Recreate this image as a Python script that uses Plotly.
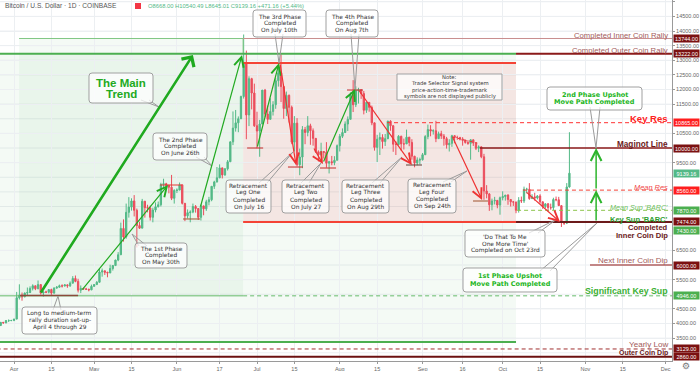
import plotly.graph_objects as go
import pandas as pd

# ---------------- data (BTC/USD daily, Coinbase, 2019) ----------------
dates = pd.date_range("2019-03-27", periods=214, freq="D")

opens = [
    3930, 4040, 4020, 4100, 4100,
    4105, 4150, 4880, 4970, 4910, 5040, 5060, 5200, 5290, 5190, 5330, 5040, 5080, 5070, 5160, 5040, 5210, 5240, 5290, 5280,
    5320, 5290, 5380, 5540, 5440, 5140, 5200, 5180, 5170, 5150,
    5270, 5330, 5410, 5760, 5800, 5750, 5730, 5880, 5980, 6170, 6350, 7250, 6960, 7800, 7980, 8190, 7870, 7350, 7260, 8180,
    7960, 7950, 7630, 7880, 7990, 8060, 8750, 8780, 8720, 8660, 8280,
    8550, 8560, 8740, 8110, 7680, 7790, 7810, 8000, 7930, 7630, 8020, 7920, 8160, 8230, 8690, 8840, 8980, 9320, 9080, 9290,
    9530, 10210, 10680, 10860, 11000, 11760, 12930, 11130, 12370, 11880,
    10760, 10580, 10820, 11980, 11160, 10980, 11250, 11480, 12300, 12570, 12100, 11350, 11800, 11390, 10200, 10850, 9430, 9690, 10630, 10530,
    10760, 10590, 10330, 9870, 9770, 9880, 9850, 9480, 9530, 9500, 9580,
    10080, 10400, 10530, 10820, 10980, 11800, 11480, 11970, 11990, 11860, 11290, 11560, 11390, 10860, 10020, 10300, 10360, 10220, 10320, 10920,
    10760, 10130, 10120, 10400, 10140, 10140, 10370, 10190, 9720, 9490, 9590,
    9600, 9770, 10390, 10630, 10580, 10590, 10320, 10490, 10410, 10320, 10110, 10160, 10420, 10360, 10360, 10310, 10260, 10190, 10160, 10280,
    10170, 9990, 10040, 9700, 8530, 8430, 8060, 8190, 8210, 8050,
    8300, 8340, 8390, 8240, 8160, 8150, 7870, 8210, 8190, 8590, 8590, 8270, 8330, 8290, 8360, 8160, 8000, 8090, 7960, 7960,
    8240, 8230, 8030, 7460, 7430, 8668.00,
]
highs = [
    4050, 4050, 4120, 4140, 4120,
    4160, 5080, 5340, 5060, 5060, 5230, 5270, 5340, 5290, 5470, 5340, 5100, 5120, 5180, 5190, 5240, 5280, 5330, 5340, 5350,
    5340, 5440, 5620, 5640, 5530, 5300, 5220, 5220, 5190, 5330,
    5350, 5450, 5880, 5880, 5810, 5770, 6010, 6000, 6180, 6440, 7450, 7560, 8100, 8320, 8280, 8390, 7930, 7480, 8260, 8190,
    8060, 8030, 7960, 8140, 8170, 8810, 8950, 8810, 8740, 9080, 8590,
    8620, 8820, 8750, 8110, 7900, 7870, 8100, 8050, 7940, 8070, 8030, 8230, 8330, 8700, 8880, 9350, 9440, 9330, 9310, 9590,
    10220, 11250, 11300, 11080, 11790, 13880, 13330, 12450, 12400, 12200,
    11240, 10960, 11980, 12020, 11450, 11700, 11600, 12400, 12830, 13200, 12120, 11930, 11830, 11450, 11090, 11020, 9980, 10750, 10720, 11090,
    10830, 10670, 10330, 9920, 10180, 9890, 10200, 9560, 9730, 9720, 10120,
    10480, 10670, 10910, 11080, 11900, 12320, 12110, 12060, 12010, 11950, 11580, 11560, 11450, 10870, 10450, 10530, 10470, 10480, 10930, 10950,
    10780, 10230, 10440, 10420, 10320, 10630, 10380, 10300, 9730, 9680, 9670,
    9830, 10440, 10800, 10780, 10640, 10930, 10560, 10590, 10480, 10380, 10300, 10450, 10440, 10420, 10380, 10370, 10280, 10270, 10300, 10290,
    10180, 10090, 10050, 9800, 8730, 8460, 8270, 8330, 8220, 8340,
    8520, 8390, 8420, 8250, 8190, 8170, 8320, 8340, 8680, 8640, 8800, 8420, 8470, 8390, 8420, 8170, 8110, 8120, 8100, 8300,
    8340, 8330, 8040, 7480, 8800, 10540.49,
]
lows = [
    3920, 4000, 4010, 4050, 4080,
    4080, 4150, 4820, 4780, 4900, 4950, 5040, 5130, 5140, 5170, 4990, 4920, 5040, 5030, 4980, 5020, 5190, 5230, 5230, 5270,
    5220, 5250, 5370, 5410, 5060, 5040, 5150, 5150, 5100, 5140,
    5260, 5320, 5400, 5600, 5660, 5580, 5720, 5810, 5980, 6130, 6350, 6800, 6900, 7620, 7860, 7660, 6600, 7230, 7260, 7620,
    7800, 7520, 7460, 7800, 7970, 8000, 8640, 8570, 8450, 8220, 8100,
    8460, 8560, 8070, 7500, 7590, 7460, 7770, 7790, 7540, 7520, 7700, 7850, 8040, 8180, 8600, 8820, 8970, 8960, 9050, 9230,
    9530, 10100, 10560, 10540, 10990, 11690, 10300, 10750, 11320, 10720,
    9990, 9700, 10820, 11050, 10820, 10980, 11110, 11340, 12100, 11570, 11000, 11090, 10870, 10130, 9880, 9370, 9070, 9310, 10130, 10400,
    10110, 10080, 9830, 9540, 9740, 9640, 9330, 9130, 9410, 9410, 9580,
    9880, 10340, 10510, 10580, 10980, 11230, 11400, 11520, 11680, 11150, 11200, 11240, 10780, 9910, 9520, 9760, 9980, 10070, 10300, 10590,
    9870, 9760, 10080, 9900, 9950, 10140, 10060, 9600, 9340, 9410, 9440,
    9570, 9760, 10300, 10400, 10460, 10200, 10310, 10310, 10080, 9980, 9880, 10040, 10160, 10280, 10260, 10080, 10150, 10110, 9600, 10070,
    9930, 9860, 9650, 8230, 8280, 7850, 7870, 8070, 7940, 7720,
    8210, 8200, 8060, 8000, 8020, 7770, 7790, 8120, 8120, 8450, 8230, 8260, 8200, 8240, 8100, 7920, 7940, 7830, 7890, 7880,
    8180, 8030, 7300, 7370, 7400, 8645.01,
]
closes = [
    4040, 4020, 4100, 4100, 4105,
    4150, 4880, 4970, 4910, 5040, 5060, 5200, 5290, 5190, 5330, 5040, 5080, 5070, 5160, 5040, 5210, 5240, 5290, 5280, 5320,
    5290, 5380, 5540, 5440, 5140, 5200, 5180, 5170, 5150, 5270,
    5330, 5410, 5760, 5800, 5750, 5730, 5880, 5980, 6170, 6350, 7250, 6960, 7800, 7980, 8190, 7870, 7350, 7260, 8180, 7960,
    7950, 7630, 7880, 7990, 8060, 8750, 8780, 8720, 8660, 8280, 8550,
    8560, 8740, 8110, 7680, 7790, 7810, 8000, 7930, 7630, 8020, 7920, 8160, 8230, 8690, 8840, 8980, 9320, 9080, 9290, 9530,
    10210, 10680, 10860, 11000, 11760, 12930, 11130, 12370, 11880, 10760,
    10580, 10820, 11980, 11160, 10980, 11250, 11480, 12300, 12570, 12100, 11350, 11800, 11390, 10200, 10850, 9430, 9690, 10630, 10530, 10760,
    10590, 10330, 9870, 9770, 9880, 9850, 9480, 9530, 9500, 9580, 10080,
    10400, 10530, 10820, 10980, 11800, 11480, 11970, 11990, 11860, 11290, 11560, 11390, 10860, 10020, 10300, 10360, 10220, 10320, 10920, 10760,
    10130, 10120, 10400, 10140, 10140, 10370, 10190, 9720, 9490, 9590, 9600,
    9770, 10390, 10630, 10580, 10590, 10320, 10490, 10410, 10320, 10110, 10160, 10420, 10360, 10360, 10310, 10260, 10190, 10160, 10280, 10170,
    9990, 10040, 9700, 8530, 8430, 8060, 8190, 8210, 8050, 8300,
    8340, 8390, 8240, 8160, 8150, 7870, 8210, 8190, 8590, 8590, 8270, 8330, 8290, 8360, 8160, 8000, 8090, 7960, 7960, 8240,
    8230, 8030, 7460, 7430, 8668, 9139.16,
]

tick_dates = ["2019-04-01", "2019-04-15", "2019-05-01", "2019-05-15", "2019-06-01", "2019-06-17",
              "2019-07-01", "2019-07-15", "2019-08-01", "2019-08-15", "2019-09-01", "2019-09-16",
              "2019-10-01", "2019-10-15", "2019-11-01", "2019-11-15", "2019-12-01"]
tick_text = ["Apr", "15", "May", "15", "Jun", "17", "Jul", "15", "Aug", "15", "Sep", "16",
             "Oct", "15", "Nov", "15", "Dec"]
price_ticks = [15000, 14500, 14000, 13500, 13000, 12500, 12000, 11500, 10500, 9500,
               6500, 5500, 4500, 4000, 3500]
grid_prices = list(range(3000, 15001, 500))

# key levels: price, label-box colour
level_prices = [13744, 13222, 10865, 10000, 9139.16, 8560, 7870, 7474, 7430, 6000, 4946, 3129, 2860]
level_box_colors = ["#7b1111", "#7b1111", "#ff1e1e", "#7b1111", "#53b987", "#ff1e1e", "#4caf50",
                    "#7b1111", "#4caf50", "#7b1111", "#4caf50", "#7b1111", "#7b1111"]

# ---------------- layout geometry ----------------
W, H = 700, 371
MR, MB = 28, 10
PW, PH = W - MR, H - MB
Y_RANGE = [2718, 15060]
X_RANGE = ["2019-03-26 18:00", "2019-12-03 10:00"]
FAR_RIGHT = "2019-12-20"
FAR_LEFT = "2019-03-15"


def day(d):
    """date at fractional day offset from 1 April 2019"""
    return (pd.Timestamp("2019-04-01") + pd.Timedelta(days=d)).strftime("%Y-%m-%d %H:%M")


def PX(x):
    return x / PW


def PY(y):
    return 1 - y / PH


fig = go.Figure()
fig.add_trace(go.Candlestick(
    x=dates, open=opens, high=highs, low=lows, close=closes,
    increasing=dict(line=dict(color="#53b987", width=1), fillcolor="#53b987"),
    decreasing=dict(line=dict(color="#eb4d5c", width=1), fillcolor="#eb4d5c"),
    whiskerwidth=0, hoverinfo="skip", showlegend=False,
))

shapes = []
ann = []


def hline(price, x0, x1, color, width=1, dash="solid", layer="above"):
    shapes.append(dict(type="line", xref="x", yref="y", x0=x0, x1=x1, y0=price, y1=price,
                       line=dict(color=color, width=width, dash=dash), layer=layer))


# horizontal grid (every 500, including levels whose tick labels are hidden)
for gp in grid_prices:
    shapes.append(dict(type="line", xref="paper", yref="y", x0=0, x1=1, y0=gp, y1=gp,
                       line=dict(color="#eceff2", width=1), layer="below"))

# zones
shapes.append(dict(type="rect", xref="x", yref="y", x0=FAR_LEFT, x1=day(188), y0=3367, y1=13222,
                   fillcolor="rgba(76,175,80,0.06)", line_width=0, layer="below"))
shapes.append(dict(type="rect", xref="x", yref="y", x0=day(1.9), x1=day(85.8), y0=4946, y1=13744,
                   fillcolor="rgba(76,175,80,0.06)", line_width=0, layer="below"))
shapes.append(dict(type="rect", xref="x", yref="y", x0=day(85.8), x1=day(188), y0=7474, y1=12906,
                   fillcolor="rgba(242,54,69,0.10)", line_width=0, layer="below"))
shapes.append(dict(type="line", xref="x", yref="y", x0=day(85.8), x1=day(85.8), y0=13222, y1=13744,
                   line=dict(color="#81c784", width=1)))

# level lines
hline(13744, day(1.9), day(85.8), "#81c784", 1)
hline(13744, day(85.8), FAR_RIGHT, "#c98e8e", 1)
hline(13222, FAR_LEFT, day(188), "#4caf50", 2)
hline(13222, day(188), FAR_RIGHT, "#8b1a1a", 2)
hline(12906, day(85.8), day(188), "#f44336", 2)
hline(10865, day(139.7), FAR_RIGHT, "#ff3030", 1, "4px,3px")
hline(10000, day(174.5), FAR_RIGHT, "#8b1a1a", 1.5)
hline(8560, day(190.6), FAR_RIGHT, "#f44336", 1, "4px,3px")
hline(7870, day(188.4), FAR_RIGHT, "#8bc34a", 1, "4px,3px")
hline(7474, day(85.8), day(188), "#f44336", 2)
hline(7474, day(188), FAR_RIGHT, "#6b1a1a", 2)
hline(6000, day(215.7), FAR_RIGHT, "#b06060", 1.5)
hline(4946, FAR_LEFT, day(85.8), "#66bb6a", 1)
hline(4946, day(85.8), FAR_RIGHT, "#66bb6a", 1, "4px,3px")
hline(3367, FAR_LEFT, day(188), "#4caf50", 2)
hline(3129, FAR_LEFT, FAR_RIGHT, "#a03030", 1, "4px,3px")
hline(2860, FAR_LEFT, FAR_RIGHT, "#6b1010", 2)

# short swing markers
hline(4960, day(2.2), day(24), "#8b4a3a", 1.5)
hline(8735, day(54.7), day(62.9), "#e53935", 1)
hline(7573, day(63.3), day(69.7), "#a0522d", 1)
hline(10000, day(87.3), day(93.3), "#c62828", 1)
hline(9350, day(102.6), day(108.2), "#c62828", 1)
hline(9316, day(114.6), day(120.6), "#c62828", 1)
hline(11983, day(124.7), day(130.7), "#c62828", 1)
hline(9419, day(146.8), day(152.8), "#5d4037", 1)
hline(8188, day(171.9), day(177.5), "#a0522d", 1)
shapes.append(dict(type="line", xref="x", yref="y", x0=day(164), x1=day(173.5), y0=10376, y1=10171,
                   line=dict(color="#e53935", width=1, dash="dot")))


def arrow(t0, p0, t1, p1, color, width=1.2, size=1.6, head=5):
    ann.append(dict(x=t1, y=p1, ax=t0, ay=p0, xref="x", yref="y", axref="x", ayref="y",
                    text="", showarrow=True, arrowhead=head, arrowsize=size, arrowwidth=width,
                    arrowcolor=color, standoff=0))


G = "#22aa22"
R = "#ee3333"
arrow(day(9.7), 5009, day(67), 13180, "#1faa1f", 2.6, 1.1, 4)
arrow(day(25.1), 5110, day(57.7), 8735, G)
arrow(day(69.7), 7950, day(85.4), 13180, G)
arrow(day(91), 10000, day(99.25), 12906, G)
arrow(day(115.7), 9487, day(127.7), 12017, G)
arrow(day(99.6), 12906, day(105.6), 9419, R)
arrow(day(112), 10034, day(115.7), 9453, R)
arrow(day(128.8), 12017, day(149), 9419, R)
arrow(day(164), 10420, day(175.3), 8222, R)
arrow(day(191.4), 8530, day(204.5), 7470, R)
arrow(day(218), 7474, day(218), 8560, "#2cb52c", 1.5, 1.4)
arrow(day(218), 8560, day(218), 10000, "#2cb52c", 1.5, 1.4)


# ---------------- callouts ----------------
def P(x, y):
    return f"{PX(x):.5f},{PY(y):.5f}"


def rrect(x0, y0, x1, y1, r=3):
    return (f"M{P(x0 + r, y0)} L{P(x1 - r, y0)} Q{P(x1, y0)} {P(x1, y0 + r)} L{P(x1, y1 - r)} "
            f"Q{P(x1, y1)} {P(x1 - r, y1)} L{P(x0 + r, y1)} Q{P(x0, y1)} {P(x0, y1 - r)} "
            f"L{P(x0, y0 + r)} Q{P(x0, y0)} {P(x0 + r, y0)} Z")


def callout(lines, box, base, tip, color="#333333", size=5.9, spacing=7.0, bold=False,
            family="DejaVu Sans", rounded=True):
    x0, y0, x1, y1 = box
    if base is not None:
        a, b = base
        shapes.append(dict(type="path", xref="paper", yref="paper",
                           path=f"M{P(*a)} L{P(*tip)} L{P(*b)}",
                           line=dict(color="#9a9a9a", width=1), layer="above"))
    path = rrect(x0, y0, x1, y1, 3 if rounded else 0.01)
    shapes.append(dict(type="path", xref="paper", yref="paper", path=path,
                       fillcolor="rgba(255,255,255,0.72)", line=dict(color="#a0a0a0", width=1),
                       layer="above"))
    n = len(lines)
    cy = (y0 + y1) / 2
    cx = (x0 + x1) / 2
    for i, t in enumerate(lines):
        yy = cy + (i - (n - 1) / 2) * spacing
        ann.append(dict(x=PX(cx), y=PY(yy), xref="paper", yref="paper", showarrow=False,
                        text=f"<b>{t}</b>" if bold else t, xanchor="center", yanchor="middle",
                        borderpad=0, font=dict(family=family, size=size, color=color)))


callout(["Long to medium-term", "rally duration set-up-", "April 4 through 29"],
        (22, 307, 97, 334), ((53, 310), (61, 310)), (58, 296))
callout(["The 1st Phase", "Completed", "On May 30th"],
        (135, 243, 187, 268), ((139, 246), (147, 246)), (132, 234))
callout(["The 2nd Phase", "Completed", "On June 26th"],
        (153, 133, 207, 160), ((196, 157), (204, 157)), (212, 166))
callout(["The 3rd Phase", "Completed", "On July 10th"],
        (253, 10, 306, 37), ((275, 34), (283, 34)), (279, 63))
callout(["The 4th Phase", "Completed", "On Aug 7th"],
        (326, 10, 378, 37), ((351, 34), (359, 34)), (355, 89))
callout(["Retracement", "Leg One", "Completed", "On July 16"],
        (226, 180, 271, 213), ((259, 183), (267, 183)), (293, 152), spacing=7.2)
callout(["Retracement", "Leg Two", "Completed", "On July 27"],
        (282, 180, 329, 213), ((301, 183), (309, 183)), (321, 163), spacing=7.2)
callout(["Retracement", "Leg Three", "Completed", "On Aug 29th"],
        (342, 180, 389, 213), ((372, 183), (380, 183)), (402, 157), spacing=7.2)
callout(["Retracement", "Leg Four", "Completed", "On Sep 24th"],
        (408, 179, 456, 213), ((443, 182), (451, 182)), (467, 171), spacing=7.2)
callout(["'Do That To Me", "One More Time'", "Completed on Oct 23rd"],
        (465, 230, 545, 257), ((529, 233), (538, 233)), (557, 219))
callout(["1st Phase Upshot", "Move Path Completed"],
        (463, 268, 557, 292), ((540, 271), (550, 271)), (597, 223),
        color="#22b522", size=6.5, spacing=7.6, bold=True)
callout(["2nd Phase Upshot", "Move Path Completed"],
        (547, 87, 642, 110), ((590, 107), (600, 107)), (596, 148),
        color="#22b522", size=6.5, spacing=7.6, bold=True)
callout(["The Main", "Trend"],
        (89, 73, 153, 103), ((141, 100), (149, 100)), (159, 107),
        color="#22aa22", size=11.5, spacing=11, bold=True, family="Liberation Sans")
callout(["Note:", "Trade Selector Signal system", "price-action-time-trademark",
         "symbols are not displayed publicly"],
        (397, 74, 502, 100), None, None, size=5.3, spacing=6.4, rounded=False)


# ---------------- level text labels ----------------
def label(text, ycenter, color, size, bold=False, italic=False, x=669):
    t = text
    if bold:
        t = f"<b>{t}</b>"
    if italic:
        t = f"<i>{t}</i>"
    ann.append(dict(x=PX(x), y=PY(ycenter), xref="paper", yref="paper", text=t, showarrow=False,
                    xanchor="right", yanchor="middle", borderpad=0,
                    font=dict(family="Liberation Sans", size=size, color=color)))


ROSY = "#a35b5b"
MAROON = "#6b1a1a"
label("Completed Inner Coin Rally", 35.7, ROSY, 7.7)
label("Completed Outer Coin Rally", 50.7, ROSY, 7.7)
label("Key Res", 118.5, "#ff2020", 9.5, bold=True)
label("Maginot Line", 145, MAROON, 8.2, bold=True)
label("Mean Res", 187, "#f04848", 7.4, italic=True)
label("Mean Sup 'BARC'", 207, "#6fbf5c", 7.2, italic=True)
label("Key Sup 'BARC'", 219, "#2e9e2e", 7.5, bold=True)
label("Completed", 227.5, MAROON, 7.6, bold=True)
label("Inner Coin Dip", 235.5, MAROON, 7.6, bold=True)
label("Next Inner Coin Dip", 260, ROSY, 8)
label("Significant Key Sup", 291, "#3cb034", 8.8, bold=True)
label("Yearly Low", 344, ROSY, 8.1)
label("Outer Coin Dip", 352.5, MAROON, 7, bold=True)

# price boxes on the axis
for p, c in zip(level_prices, level_box_colors):
    shift = -7 if p == 7430 else 0
    ann.append(dict(x=PX(673), y=p, xref="paper", yref="y", text=f"{p:.2f}", showarrow=False,
                    xanchor="left", yanchor="middle", yshift=shift, bgcolor=c, borderpad=0.5,
                    width=24, align="center",
                    font=dict(family="Liberation Sans", size=5.5, color="white")))

# header
ann.append(dict(x=PX(3), y=PY(6), xref="paper", yref="paper", showarrow=False, xanchor="left",
                yanchor="middle", text="Bitcoin / U.S. Dollar · 1D · COINBASE",
                font=dict(family="Liberation Sans", size=6.6, color="#555555")))
shapes.append(dict(type="rect", xref="paper", yref="paper", x0=PX(135), x1=PX(141), y0=PY(9), y1=PY(3),
                   fillcolor="#f23645", line_width=0, layer="above"))
ann.append(dict(x=PX(146), y=PY(6), xref="paper", yref="paper", showarrow=False, xanchor="left",
                yanchor="middle",
                text="O8668.00 H10540.49 L8645.01 C9139.16 +471.16 (+5.44%)",
                font=dict(family="Liberation Sans", size=5.8, color="#53b987")))
ann.append(dict(x=PX(686), y=PY(366), xref="paper", yref="paper", showarrow=False, xanchor="center",
                yanchor="middle", text="⚙", font=dict(family="DejaVu Sans", size=9, color="#777777")))

fig.update_layout(
    width=W, height=H, margin=dict(l=0, r=MR, t=0, b=MB),
    paper_bgcolor="white", plot_bgcolor="white", showlegend=False,
    shapes=shapes, annotations=ann,
    xaxis=dict(type="date", range=X_RANGE, rangeslider=dict(visible=False),
               tickvals=tick_dates, ticktext=tick_text, showgrid=True, gridcolor="#eceff2",
               gridwidth=1, ticks="outside", ticklen=2, tickcolor="#999",
               tickfont=dict(family="Liberation Sans", size=5.5, color="#666"),
               showline=True, linecolor="#9a9a9a", zeroline=False, fixedrange=True),
    yaxis=dict(range=Y_RANGE, side="right", tickvals=price_ticks, tickformat=".2f",
               showgrid=True, gridcolor="#eceff2", gridwidth=1, ticks="outside", ticklen=2,
               tickcolor="#999", tickfont=dict(family="Liberation Sans", size=5.5, color="#666"),
               showline=True, linecolor="#9a9a9a", zeroline=False, fixedrange=True),
)

fig.write_html("out.html", config={"displayModeBar": False},
               post_script="document.body.style.margin='0';document.body.style.overflow='hidden';")
